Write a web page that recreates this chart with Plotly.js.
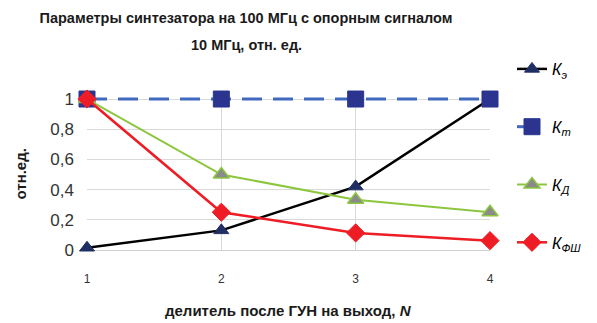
<!DOCTYPE html>
<html><head><meta charset="utf-8">
<script src="https://cdn.plot.ly/plotly-3.0.1.min.js"></script>
<style>html,body{margin:0;padding:0;background:#fff}#c{width:597px;height:323px}</style>
</head><body><div id="c"></div>
<script>
const N = [1, 2, 3, 4];
const kE = [0.015, 0.13, 0.42, 1.0];
const kT = [1, 1, 1, 1];
const kD = [1, 0.5, 0.333, 0.25];
const kF = [1, 0.25, 0.113, 0.062];
const yTickVals = [0, 0.2, 0.4, 0.6, 0.8, 1];
const yTickText = ["0", "0,2", "0,4", "0,6", "0,8", "1"];
const titleLine1 = "Параметры синтезатора на 100 МГц с опорным сигналом";
const titleLine2 = "10 МГц, отн. ед.";
const names = ["<i>К<sub>э</sub></i>", "<i>К<sub>т</sub></i>", "<i>К<sub>Д</sub></i>", "<i>К<sub>ФШ</sub></i>"];

const F = "Liberation Sans, Arial, sans-serif";
const traces = [
  {x: N, y: kE, name: names[0], mode: "lines+markers", legendgroup: "a",
   line: {color: "#000000", width: 2.5},
   marker: {symbol: "triangle-up", size: 13, color: "#1f2f63", line: {color: "#1f2f63", width: 1}}},
  {x: N, y: kT, name: names[1], mode: "lines+markers", legendgroup: "b",
   line: {color: "#4169c0", width: 3, dash: "20px,11px"},
   marker: {symbol: "square", size: 16, color: "#2b3590", line: {color: "#2b3590", width: 1}}},
  {x: N, y: kD, name: names[2], mode: "lines+markers", legendgroup: "c",
   line: {color: "#8cc63f", width: 2},
   marker: {symbol: "triangle-up", size: 14, color: "#8a8a8a", line: {color: "#8cc63f", width: 1.5}}},
  {x: N, y: kF, name: names[3], mode: "lines+markers", legendgroup: "d",
   line: {color: "#ee1c24", width: 2.5},
   marker: {symbol: "diamond", size: 14, color: "#ee1c24", line: {color: "#ee1c24", width: 1}}}
];
traces.forEach(t => t.cliponaxis = false);

const PH = 154; // plot height in px
const layout = {
  width: 597, height: 323,
  margin: {l: 87, r: 107, t: 96, b: 73},
  paper_bgcolor: "#fff", plot_bgcolor: "#fff",
  font: {family: F, color: "#000"},
  title: {text: "<b>" + titleLine1 + "</b>", font: {size: 14.5, family: F, color: "#1a1a1a"},
          x: 246/597, xanchor: "center", xref: "container", y: 1 - 18/323, yanchor: "middle", yref: "container"},
  annotations: [
    {text: "<b>" + titleLine2 + "</b>", xref: "paper", yref: "paper",
     x: (246-87)/403, y: (250-45)/PH, xanchor: "center", yanchor: "middle",
     showarrow: false, font: {size: 14.5, family: F, color: "#1a1a1a"}},
    {text: "<b>отн.ед.</b>", xref: "paper", yref: "paper", textangle: -90,
     x: (20-87)/403, y: (250-174.5)/PH, xanchor: "center", yanchor: "middle",
     showarrow: false, font: {size: 15, family: F, color: "#1a1a1a"}},
    {text: "<b>делитель после ГУН на выход, <i>N</i></b>", xref: "paper", yref: "paper",
     x: 0.5, y: -(310-250)/PH, xanchor: "center", yanchor: "middle",
     showarrow: false, font: {size: 15, family: F, color: "#1a1a1a"}}
  ],
  xaxis: {range: [1, 4], tickvals: N, ticktext: N.map(String), showgrid: true, gridcolor: "#d9d9d9",
          zeroline: false, showline: false, ticks: "", ticklabelstandoff: 20,
          tickfont: {size: 12, family: F, color: "#333"}},
  yaxis: {range: [0, 1.02], tickvals: yTickVals, ticktext: yTickText, showgrid: true, gridcolor: "#d9d9d9",
          zeroline: true, zerolinecolor: "#d0d0d0", zerolinewidth: 1, showline: false, ticks: "",
          ticklabelstandoff: 12, tickfont: {size: 17, family: F, color: "#333"}},
  legend: {x: 512/597, xref: "container", y: 1 - 52/323, yref: "container", xanchor: "left", yanchor: "top",
           tracegroupgap: 34, traceorder: "grouped", font: {size: 16, family: F, color: "#000"},
           bgcolor: "rgba(0,0,0,0)", itemwidth: 30, maxheight: 1}
};
Plotly.newPlot("c", traces, layout, {displayModeBar: false, staticPlot: true});
</script></body></html>
